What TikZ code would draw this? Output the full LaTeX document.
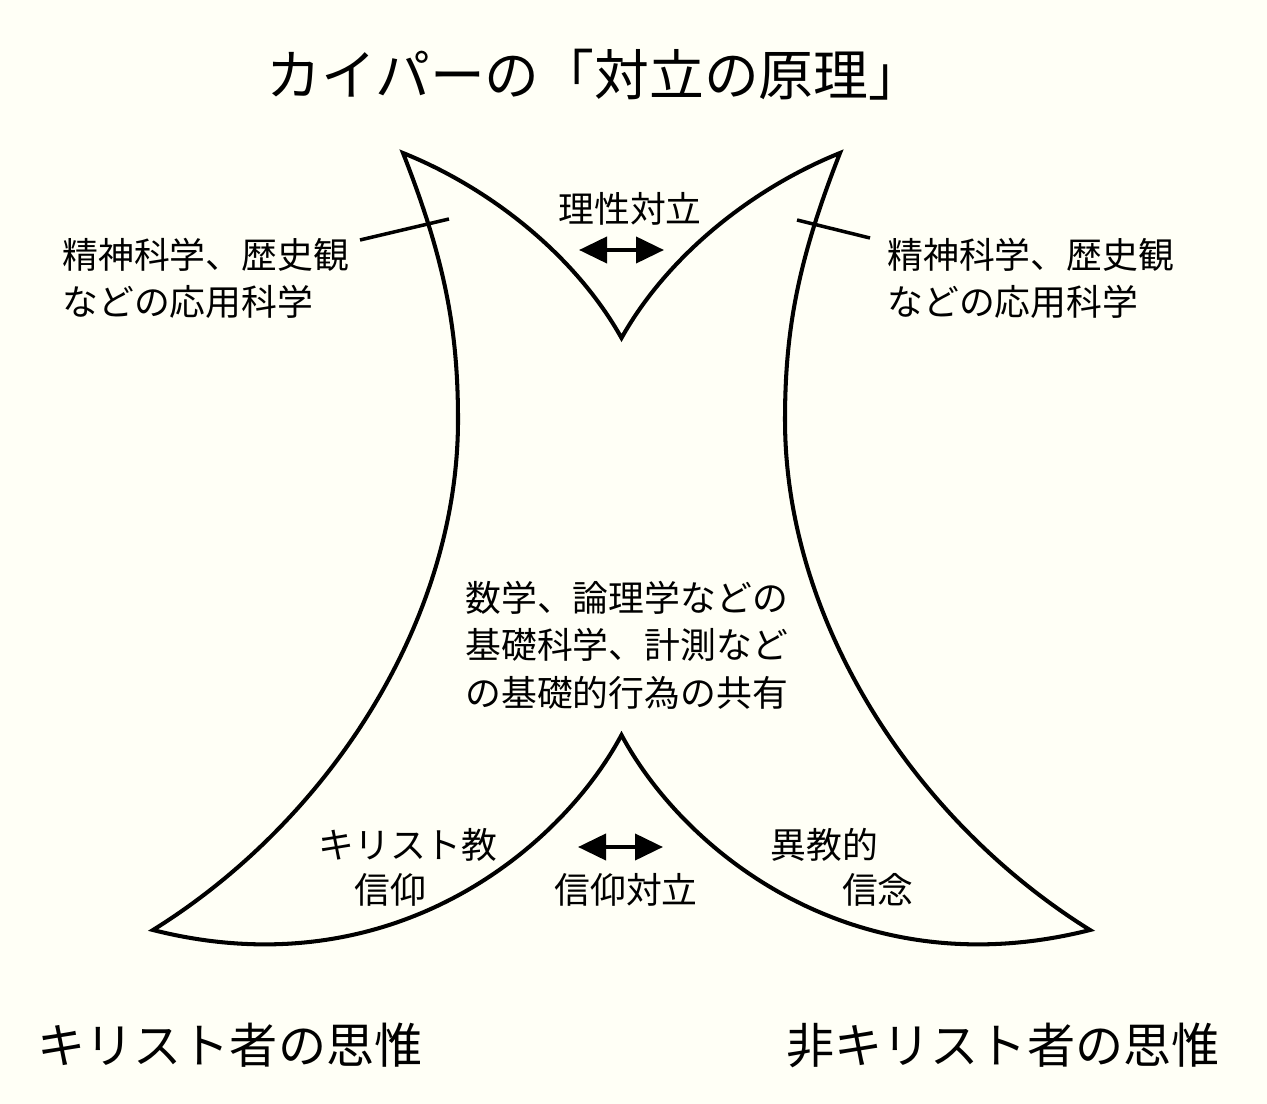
\documentclass[tikz,border=0pt]{standalone}
\usepackage{fontspec}
\setmainfont{Noto Sans CJK JP}
\usetikzlibrary{arrows.meta}
\definecolor{paper}{HTML}{FFFFF6}

\begin{document}
\begin{tikzpicture}[
    x=0.02cm, y=-0.02cm,
    every node/.style={inner sep=0pt, text=black},
    title/.style={font=\fontsize{31.2}{36}\selectfont},
    lbl/.style={
        font=\fontsize{20.4}{26.8}\selectfont,
        align=left
    },
    thinker/.style={font=\fontsize{27.4}{32}\selectfont},
    outline/.style={
        line width=2.3pt,
        line join=miter,
        fill=paper
    },
    lead/.style={line width=2pt},
    arr/.style={
        {Triangle[length=0.56cm,width=0.52cm]}-{Triangle[length=0.56cm,width=0.52cm]},
        line width=2.3pt
    }
]

    % Page
    \fill[paper] (0,0) rectangle (1267,1104);
    \useasboundingbox (0,0) rectangle (1267,1104);

    % Shape of the two ways of thinking
    \draw[outline] (403,153) .. controls (490,188) and (575,255) .. (621.5,338)
        .. controls (668,255) and (753,188) .. (840,153)
        .. controls (798,260) and (785,330) .. (785,420)
        .. controls (785,620) and (913,820) .. (1090,930)
        .. controls (853,990) and (683,850) .. (621.5,735)
        .. controls (560,850) and (390,990) .. (153,930)
        .. controls (330,820) and (458,620) .. (458,420)
        .. controls (458,330) and (445,260) .. (403,153) -- cycle;

    % Texts
    \node[title] (title) at (595,75) {カイパーの「対立の原理」};

    \node[lbl] (reason) at (630,209) {理性対立};
    \node[lbl, anchor=west] (appliedL) at (62,278) {精神科学、歴史観\\などの応用科学};
    \node[lbl, anchor=west] (appliedR) at (887,278) {精神科学、歴史観\\などの応用科学};

    \node[lbl, anchor=west, font=\fontsize{20.4}{27}\selectfont] (basic) at (465,645)
        {数学、論理学などの\\基礎科学、計測など\\の基礎的行為の共有};

    \node[lbl, anchor=west, font=\fontsize{20.4}{25.5}\selectfont] (faithL) at (318,867)
        {キリスト教\\\hspace{1em}信仰};
    \node[lbl, anchor=west, font=\fontsize{20.4}{25.5}\selectfont] (faithR) at (770,867)
        {異教的\\\hspace{2em}信念};
    \node[lbl] (faith) at (626,890) {信仰対立};

    \node[thinker, anchor=west] (christian) at (37,1045) {キリスト者の思惟};
    \node[thinker, anchor=east] (nonchristian) at (1220,1045) {非キリスト者の思惟};

    % Leaders and arrows
    \coordinate (leadLa) at (360,240);
    \coordinate (leadLb) at (449,219);
    \coordinate (leadRa) at (797,220);
    \coordinate (leadRb) at (870,238);
    \draw[lead] (leadLa) -- (leadLb);
    \draw[lead] (leadRa) -- (leadRb);

    \coordinate (reasonL) at (579,250);
    \coordinate (reasonR) at (664,250);
    \coordinate (faithArrL) at (578,847);
    \coordinate (faithArrR) at (663,847);
    \draw[arr] (reasonL) -- (reasonR);
    \draw[arr] (faithArrL) -- (faithArrR);

\end{tikzpicture}
\end{document}
